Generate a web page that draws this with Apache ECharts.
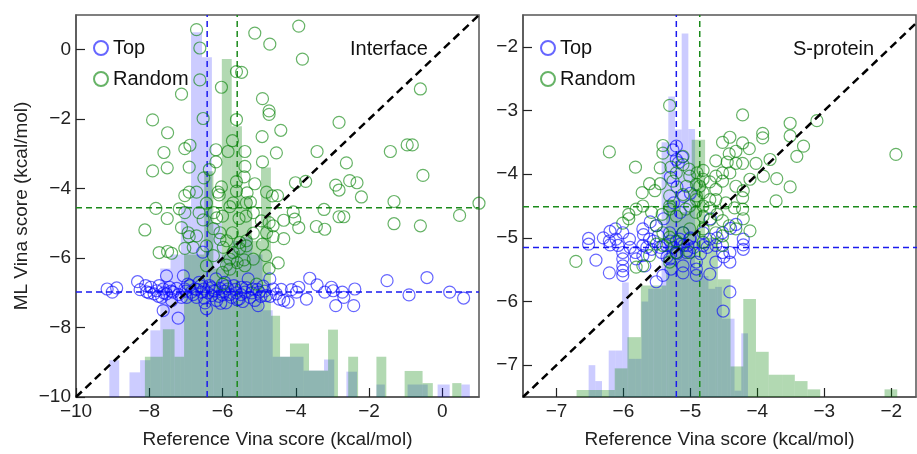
<!DOCTYPE html>
<html>
<head>
<meta charset="utf-8">
<script src="https://cdn.jsdelivr.net/npm/echarts@6/dist/echarts.min.js"></script>
<style>
  html, body { margin: 0; padding: 0; background: #fff; }
  #chart { width: 917px; height: 454px; }
</style>
</head>
<body>
<div id="chart"></div>
<script>
// ---- Interface panel ----
const ifaceRandom = [
  [-6.71,0.58],[-6.62,0.05],[-5.12,0.48],[-4.71,0.16],[-3.92,0.68],[-3.82,-0.27],[-6.62,-0.87],[-5.62,-0.63],
  [-5.48,-0.65],[-6.03,-1.08],[-7.12,-1.28],[-0.6,-1.13],[-4.91,-1.41],[-4.73,-1.76],[-4.73,-1.86],[-7.91,-2.02],
  [-6.53,-1.98],[-5.62,-2.01],[-2.82,-2.09],[-7.5,-2.39],[-4.41,-2.32],[-4.92,-2.5],[-5.73,-2.62],[-1.42,-2.93],
  [-0.96,-2.74],[-0.82,-2.74],[-7.03,-2.85],[-6.89,-2.75],[-7.6,-2.96],[-6.18,-2.88],[-5.85,-2.93],[-5.39,-2.93],
  [-4.53,-2.97],[-3.42,-2.93],[-4.91,-3.23],[-6.18,-3.23],[-7.91,-3.49],[-7.51,-3.4],[-6.91,-3.38],[-6.36,-3.45],
  [-5.39,-3.36],[-2.62,-3.26],[-0.53,-3.62],[-5.41,-3.66],[-6.51,-3.69],[-5.12,-3.86],[-5.62,-3.8],[-4.01,-3.83],
  [-3.73,-3.79],[-2.91,-3.9],[-2.82,-4.04],[-2.53,-3.77],[-2.33,-3.83],[-2.21,-4.24],[-1.32,-4.37],[-6.71,-4.1],
  [-7.03,-4.2],[-6.91,-4.1],[-6.12,-4.1],[-6.03,-3.95],[-6.09,-4.18],[-5.62,-4.07],[-5.33,-4.12],[-4.8,-4.1],
  [-4.64,-4.21],[-4.5,-4.2],[-5.24,-4.39],[-5.35,-4.41],[-5.71,-4.41],[-5.8,-4.52],[-6.44,-4.42],[-7.82,-4.57],
  [-7.18,-4.58],[1.0,-4.42],[-6.64,-4.69],[-7.03,-4.69],[-6.24,-4.69],[-6.16,-4.84],[-6.0,-4.79],[-5.55,-4.86],
  [-5.36,-4.79],[-5.16,-4.69],[-4.94,-4.93],[-4.73,-4.98],[-4.62,-5.07],[-4.33,-4.91],[-4.07,-4.67],[-4.03,-4.88],
  [-3.92,-5.12],[-3.44,-5.09],[-3.23,-4.6],[-3.21,-5.17],[-2.82,-4.81],[-2.69,-4.81],[-1.32,-5.01],[-0.6,-5.07],
  [0.47,-4.77],[-7.51,-4.86],[-8.12,-5.19],[-7.12,-5.12],[-6.94,-5.27],[-6.91,-5.38],[-6.71,-5.36],[-6.53,-4.9],
  [-6.25,-5.15],[-6.07,-5.27],[-6.07,-5.46],[-5.89,-5.5],[-5.73,-5.27],[-5.53,-5.55],[-5.35,-5.5],[-5.16,-5.28],
  [-4.91,-5.6],[-4.8,-5.27],[-4.62,-5.38],[-4.33,-5.44],[-7.03,-5.72],[-6.8,-5.69],[-6.44,-5.65],[-5.98,-5.69],
  [-5.71,-5.84],[-5.53,-5.72],[-5.35,-5.65],[-7.73,-5.84],[-7.5,-5.81],[-7.39,-5.86],[-6.25,-5.93],[-5.16,-6.03],
  [-4.82,-5.93],[-5.41,-6.05],[-5.6,-6.13],[-4.48,-6.14],[-6.44,-6.22],[-5.89,-6.2],[-5.39,-6.22],[-4.73,-6.3],
  [-5.8,-6.03],[-5.8,-6.32],[-6.0,-6.41],[-6.0,-6.75],[-5.07,-6.75]
];
const ifaceTop = [
  [-9.15,-6.89],[-9.01,-6.98],[-8.89,-6.86],[-8.32,-6.68],[-8.25,-6.91],[-8.1,-6.79],[-8.07,-6.97],[-7.96,-6.84],
  [-7.87,-7.03],[-7.8,-6.94],[-7.73,-6.79],[-7.66,-7.13],[-7.62,-6.89],[-7.53,-6.51],[-7.53,-7.03],[-7.45,-6.84],
  [-7.39,-7.22],[-7.35,-6.98],[-7.25,-6.87],[-7.62,-7.51],[-7.21,-7.73],[-7.12,-7.13],[-7.07,-6.51],[-7.03,-6.89],
  [-6.98,-7.13],[-6.89,-6.79],[-6.85,-6.98],[-6.75,-6.89],[-6.71,-7.13],[-6.64,-6.7],[-6.57,-6.98],[-6.51,-6.89],
  [-6.48,-7.29],[-6.44,-7.46],[-6.36,-6.79],[-6.3,-7.08],[-6.24,-6.94],[-6.18,-6.6],[-6.16,-7.22],[-6.07,-6.87],
  [-6.0,-7.06],[-5.94,-6.7],[-5.91,-7.29],[-5.85,-6.89],[-5.75,-7.13],[-5.69,-6.79],[-5.62,-7.0],[-5.55,-7.18],
  [-5.48,-6.84],[-5.39,-6.98],[-5.3,-6.6],[-5.25,-7.13],[-5.18,-6.89],[-5.12,-7.22],[-5.03,-7.37],[-5.0,-6.98],
  [-4.89,-6.81],[-4.8,-7.08],[-4.71,-6.6],[-4.62,-6.89],[-4.53,-7.03],[-4.45,-7.18],[-4.33,-7.22],[-4.21,-7.27],
  [-4.12,-6.91],[-3.98,-6.98],[-3.92,-6.84],[-3.71,-7.18],[-3.62,-6.58],[-3.42,-6.77],[-3.21,-6.98],[-3.03,-6.84],
  [-2.98,-6.94],[-2.91,-7.37],[-2.73,-6.98],[-2.69,-7.13],[-2.42,-7.37],[-2.39,-6.89],[-1.51,-6.65],[-0.91,-7.06],
  [-0.42,-6.56],[0.2,-6.98],[0.58,-7.15],
  [-7.2,-7.05],[-7.0,-6.95],[-6.8,-7.05],[-6.6,-6.8],[-6.4,-7.0],[-6.3,-6.85],[-6.1,-7.1],[-5.95,-6.95],
  [-5.8,-7.05],[-5.65,-6.9],[-5.5,-7.05],[-5.35,-6.85],[-5.2,-7.0],[-5.05,-6.9],[-4.95,-7.1],[-6.7,-6.9],
  [-6.5,-7.15],[-6.2,-6.95],[-5.9,-6.8],[-5.6,-7.2],[-7.4,-6.95],[-7.6,-7.0],[-7.75,-7.1],[-8.0,-7.0],
  [-6.95,-6.75],[-6.05,-7.3],[-5.45,-7.25],[-4.85,-6.95],[-4.7,-7.1],[-4.4,-6.9],[-6.54,-5.83]
];
// histogram bins: [left edge, right edge, bar top on the y axis]
const ifaceTopHist = [
  [-9.09,-8.82,-8.94],[-8.54,-8.25,-9.29],[-8.25,-7.97,-8.94],[-7.97,-7.70,-8.08],[-7.70,-7.42,-6.3],
  [-7.42,-7.14,-5.9],[-7.14,-6.86,-4.5],[-6.86,-6.56,0.5],[-6.56,-6.29,-0.22],[-6.29,-6.02,-5.0],
  [-6.02,-5.74,-5.9],[-5.74,-5.46,-5.5],[-5.46,-5.19,-5.4],[-5.19,-4.91,-5.9],[-4.91,-4.63,-7.5],
  [-4.63,-4.35,-8.84],[-4.35,-3.79,-8.84],[-3.79,-3.23,-9.24],[-3.23,-2.95,-8.92],[-2.62,-2.33,-9.27],
  [-1.80,-1.57,-9.64],[-0.95,-0.40,-9.64],[-0.13,0.20,-9.64],[0.52,0.75,-9.64]
];
const ifaceRandomHist = [
  [-8.12,-7.63,-8.84],[-7.63,-7.31,-8.05],[-7.31,-7.05,-8.84],[-7.05,-6.50,-5.9],[-6.50,-6.25,-3.5],
  [-6.25,-6.02,-6.3],[-6.02,-5.75,-0.27],[-5.75,-5.47,-2.2],[-5.47,-5.20,-4.3],[-5.20,-4.95,-5.5],
  [-4.95,-4.68,-3.39],[-4.68,-4.43,-7.66],[-4.43,-4.16,-8.84],[-4.16,-3.64,-8.46],[-3.64,-3.12,-9.24],
  [-3.12,-2.85,-8.06],[-2.57,-2.30,-8.84],[-1.80,-1.53,-8.84],[-1.03,-0.54,-9.25],[-0.54,-0.26,-9.6],
  [0.27,0.52,-9.6]
];
const ifaceTopMean = [-6.42, -6.98];
const ifaceRandomMean = [-5.6, -4.55];

// ---- S-protein panel ----
const sprotRandom = [
  [-5.31,-2.92],[-4.22,-3.07],[-3.11,-3.16],[-3.51,-3.2],[-3.92,-3.36],[-3.92,-3.43],[-3.51,-3.4],[-4.41,-3.42],
  [-4.52,-3.5],[-3.31,-3.56],[-6.21,-3.65],[-5.41,-3.55],[-5.41,-3.67],[-5.11,-3.72],[-4.42,-3.68],[-4.32,-3.64],
  [-4.12,-3.6],[-4.22,-3.51],[-3.81,-3.77],[-3.41,-3.72],[-4.62,-3.79],[-4.45,-3.81],[-4.32,-3.83],[-4.22,-3.83],
  [-4.02,-3.83],[-5.82,-3.89],[-5.45,-3.9],[-5.29,-3.89],[-5.02,-3.92],[-4.9,-3.98],[-4.81,-3.94],[-4.62,-4.03],
  [-4.52,-3.98],[-4.41,-3.98],[-4.11,-4.08],[-3.91,-4.03],[-3.71,-4.07],[-3.51,-4.2],[-3.72,-4.42],[-5.61,-4.15],
  [-5.45,-4.15],[-5.26,-4.11],[-5.06,-4.19],[-4.91,-4.16],[-4.81,-4.08],[-4.71,-4.12],[-4.52,-4.11],[-4.32,-4.19],
  [-4.21,-4.26],[-4.22,-4.37],[-5.72,-4.29],[-5.53,-4.26],[-5.31,-4.34],[-5.11,-4.32],[-4.91,-4.34],[-4.71,-4.4],
  [-4.62,-4.4],[-4.47,-4.45],[-4.34,-4.53],[-4.22,-4.55],[-4.21,-4.7],[-4.11,-4.89],[-5.81,-4.55],[-5.71,-4.5],
  [-5.92,-4.63],[-5.92,-4.7],[-6.01,-4.77],[-5.58,-4.6],[-5.42,-4.63],[-5.31,-4.55],[-5.21,-4.66],[-5.07,-4.55],
  [-4.92,-4.6],[-4.81,-4.66],[-4.71,-4.72],[-4.6,-4.63],[-4.52,-4.73],[-4.42,-4.81],[-4.32,-4.86],[-6.71,-5.37],
  [-5.81,-5.46],[-5.51,-4.81],[-5.41,-4.92],[-5.31,-4.99],[-5.21,-5.05],[-5.11,-4.92],[-5.01,-4.86],[-4.81,-4.86],
  [-4.62,-4.92],[-4.52,-4.97],[-5.41,-5.12],[-5.31,-5.38],[-4.81,-5.07],[-5.01,-5.23],[-5.61,-5.28],[-5.71,-5.44],
  [-5.51,-5.1],[-5.21,-5.23],[-4.52,-5.12],[-4.91,-4.4],[-4.86,-4.19],[-5.01,-4.03],[-5.21,-3.98],[-5.11,-3.85],
  [-4.81,-4.29],[-4.62,-4.24],[-5.31,-4.5],[-4.71,-4.53],[-4.81,-4.5],[-5.01,-4.5],[-1.93,-3.69]
];
const sprotTop = [
  [-6.52,-5.01],[-6.52,-5.1],[-6.41,-5.35],[-6.21,-5.55],[-6.21,-5.05],[-6.2,-5.11],[-6.12,-4.86],[-6.11,-5.02],
  [-6.08,-5.12],[-6.01,-4.92],[-6.01,-5.23],[-6.01,-5.33],[-6.01,-5.44],[-6.01,-5.52],[-6.01,-5.59],[-5.91,-5.02],
  [-5.82,-5.23],[-5.81,-5.33],[-5.71,-4.86],[-5.71,-5.12],[-5.71,-5.28],[-5.68,-5.44],[-5.61,-5.02],[-5.58,-5.18],
  [-5.51,-5.69],[-5.51,-4.81],[-5.48,-4.97],[-5.43,-5.23],[-5.41,-5.59],[-5.36,-5.12],[-5.31,-4.92],[-5.31,-5.33],
  [-5.29,-5.49],[-5.21,-3.56],[-5.21,-3.77],[-5.21,-5.23],[-5.16,-5.02],[-5.11,-4.92],[-5.11,-5.55],[-5.11,-5.44],
  [-5.1,-5.12],[-5.06,-5.23],[-5.04,-5.12],[-5.01,-5.02],[-4.91,-5.38],[-4.91,-5.49],[-4.91,-5.59],[-4.81,-4.92],
  [-4.81,-5.12],[-4.71,-5.02],[-4.71,-5.57],[-4.62,-5.38],[-4.62,-5.12],[-4.52,-4.92],[-4.52,-5.23],[-4.41,-5.23],
  [-4.41,-5.38],[-4.41,-5.85],[-4.51,-6.15],[-4.32,-4.79],[-4.21,-5.02],[-4.21,-5.11],[-4.21,-5.18],
  [-5.26,-3.62],[-5.18,-3.82],[-5.12,-3.73],[-5.3,-4.05],[-5.2,-4.2],[-5.1,-4.35],[-5.25,-4.45],[-5.0,-4.3],
  [-5.15,-4.6],[-5.4,-4.7],[-5.6,-4.75],[-5.7,-4.95],[-4.7,-4.7],[-4.4,-4.85],
  [-5.25,-5.15],[-5.15,-5.1],[-5.05,-5.2],[-5.3,-5.05],[-5.2,-5.25],[-4.95,-5.15],[-5.45,-5.15],[-5.35,-5.3],
  [-4.85,-5.25],[-5.0,-5.0],[-5.55,-5.05],[-4.75,-5.15],[-4.6,-5.0],[-5.65,-5.15],[-4.5,-5.3],[-5.9,-5.15],
  [-6.2,-4.9],[-6.3,-5.0]
];
const sprotTopHist = [
  [-6.52,-6.42,-7.0],[-6.42,-6.32,-7.25],[-6.22,-6.12,-6.77],[-6.12,-6.02,-6.77],[-6.02,-5.92,-5.70],
  [-5.92,-5.82,-6.9],[-5.82,-5.73,-6.9],[-5.73,-5.63,-6.0],[-5.63,-5.53,-5.8],[-5.53,-5.43,-5.8],
  [-5.43,-5.33,-3.5],[-5.33,-5.23,-2.78],[-5.23,-5.13,-3.3],[-5.13,-5.03,-1.79],[-5.03,-4.93,-3.29],
  [-4.93,-4.83,-5.5],[-4.83,-4.73,-5.6],[-4.73,-4.63,-5.8],[-4.63,-4.53,-5.77],[-4.53,-4.44,-6.27],
  [-4.44,-4.34,-6.27],[-4.34,-4.24,-7.4],[-4.24,-4.14,-6.5]
];
const sprotRandomHist = [
  [-6.70,-6.51,-7.39],[-6.51,-6.32,-7.39],[-6.32,-6.13,-7.39],[-6.13,-5.94,-7.05],[-5.94,-5.74,-6.56],
  [-5.74,-5.55,-5.75],[-5.55,-5.36,-5.75],[-5.36,-5.17,-4.4],[-5.17,-4.98,-4.6],[-4.98,-4.78,-3.46],
  [-4.78,-4.59,-5.0],[-4.59,-4.40,-5.65],[-4.40,-4.21,-7.02],[-4.21,-4.02,-5.96],[-4.02,-3.83,-6.79],
  [-3.83,-3.63,-7.15],[-3.63,-3.44,-7.15],[-3.44,-3.25,-7.25],[-3.25,-3.06,-7.38],[-2.10,-1.91,-7.38]
];
const sprotTopMean = [-5.21, -5.15];
const sprotRandomMean = [-4.86, -4.51];

const ifaceTicks = [-10, -8, -6, -4, -2, 0];
const sprotTicks = [-7, -6, -5, -4, -3, -2];

const FONT = 'Liberation Sans';
const BLUE = 'rgba(0,0,255,0.75)';
const GREEN = 'rgba(0,128,0,0.75)';
const minus = v => String(v).replace('-', '\u2212');

function axis(min, max, ticks, name, gridIndex, nameGap) {
  return {
    type: 'value', gridIndex, min, max, name,
    nameLocation: 'middle', nameGap,
    nameTextStyle: { fontFamily: FONT, fontSize: 19, color: '#222' },
    axisLine: { show: true, onZero: false, lineStyle: { color: '#555', width: 1.5 } },
    axisTick: { show: true, inside: true, length: 9, customValues: ticks, lineStyle: { color: '#222', width: 1.2 } },
    axisLabel: { customValues: ticks, formatter: minus, fontFamily: FONT, fontSize: 19, color: '#222', margin: 5 },
    splitLine: { show: false }
  };
}

function histSeries(data, color, g) {
  return {
    type: 'custom', xAxisIndex: g, yAxisIndex: g, z: 1, silent: true,
    encode: { x: [0, 1], y: 2 },
    data,
    renderItem: (params, api) => {
      const base = g === 0 ? -10 : -7.5;
      const p0 = api.coord([api.value(0), api.value(2)]);
      const p1 = api.coord([api.value(1), base]);
      return { type: 'rect', shape: { x: p0[0], y: p0[1], width: p1[0] - p0[0], height: p1[1] - p0[1] }, style: { fill: color } };
    }
  };
}

function meanLines(mean, color, g, lo, hi) {
  const style = { color, width: 1.5, type: [6, 4] };
  return [
    { type: 'line', xAxisIndex: g, yAxisIndex: g, z: 2, silent: true, symbol: 'none', lineStyle: style, data: [[mean[0], lo], [mean[0], hi]] },
    { type: 'line', xAxisIndex: g, yAxisIndex: g, z: 2, silent: true, symbol: 'none', lineStyle: style, data: [[lo, mean[1]], [hi, mean[1]]] }
  ];
}

function scatter(name, data, color, g) {
  return {
    name, type: 'scatter', xAxisIndex: g, yAxisIndex: g, z: 3, data, symbol: 'circle', symbolSize: 12,
    itemStyle: { color: 'rgba(0,0,0,0)', borderColor: color, borderWidth: 1.2 }
  };
}

function diagonal(g, lo, hi) {
  return { type: 'line', xAxisIndex: g, yAxisIndex: g, z: 4, silent: true, symbol: 'none',
    lineStyle: { color: '#000', width: 2.5, type: [8, 5] }, data: [[lo, lo], [hi, hi]] };
}

const chart = echarts.init(document.getElementById('chart'));
chart.setOption({
  animation: false,
  textStyle: { fontFamily: FONT },
  grid: [
    { left: 76, top: 15, width: 403, height: 384, show: true, borderColor: '#555', borderWidth: 1.5, backgroundColor: 'transparent' },
    { left: 523, top: 15, width: 393, height: 384, show: true, borderColor: '#555', borderWidth: 1.5, backgroundColor: 'transparent' }
  ],
  xAxis: [
    axis(-10, 1, ifaceTicks, 'Reference Vina score (kcal/mol)', 0, 33),
    axis(-7.5, -1.63, sprotTicks, 'Reference Vina score (kcal/mol)', 1, 33)
  ],
  yAxis: [
    axis(-10, 1, ifaceTicks, 'ML Vina score (kcal/mol)', 0, 45),
    axis(-7.5, -1.5, sprotTicks, '', 1, 40)
  ],
  legend: [
    { left: 88, top: 33, orient: 'vertical', itemGap: 11, itemWidth: 14, itemHeight: 14, data: ['Top', 'Random'],
      textStyle: { fontFamily: FONT, fontSize: 20, color: '#111' } },
    { left: 535, top: 33, orient: 'vertical', itemGap: 11, itemWidth: 14, itemHeight: 14, data: ['Top', 'Random'],
      textStyle: { fontFamily: FONT, fontSize: 20, color: '#111' } }
  ],
  title: [
    { text: 'Interface', left: 345, top: 34, textStyle: { fontFamily: FONT, fontSize: 20, fontWeight: 'normal', color: '#111' } },
    { text: 'S-protein', left: 788, top: 34, textStyle: { fontFamily: FONT, fontSize: 20, fontWeight: 'normal', color: '#111' } }
  ],
  series: [
    histSeries(ifaceTopHist, 'rgba(0,0,255,0.2)', 0),
    histSeries(ifaceRandomHist, 'rgba(0,128,0,0.3)', 0),
    ...meanLines(ifaceTopMean, '#1a1aee', 0, -10, 1),
    ...meanLines(ifaceRandomMean, '#1a8a1a', 0, -10, 1),
    scatter('Top', ifaceTop, BLUE, 0),
    scatter('Random', ifaceRandom, GREEN, 0),
    diagonal(0, -10, 1),
    histSeries(sprotTopHist, 'rgba(0,0,255,0.2)', 1),
    histSeries(sprotRandomHist, 'rgba(0,128,0,0.3)', 1),
    ...meanLines(sprotTopMean, '#1a1aee', 1, -7.5, -1.5),
    ...meanLines(sprotRandomMean, '#1a8a1a', 1, -7.5, -1.5),
    scatter('Top', sprotTop, BLUE, 1),
    scatter('Random', sprotRandom, GREEN, 1),
    diagonal(1, -7.5, -1.5)
  ]
});
</script>
</body>
</html>
